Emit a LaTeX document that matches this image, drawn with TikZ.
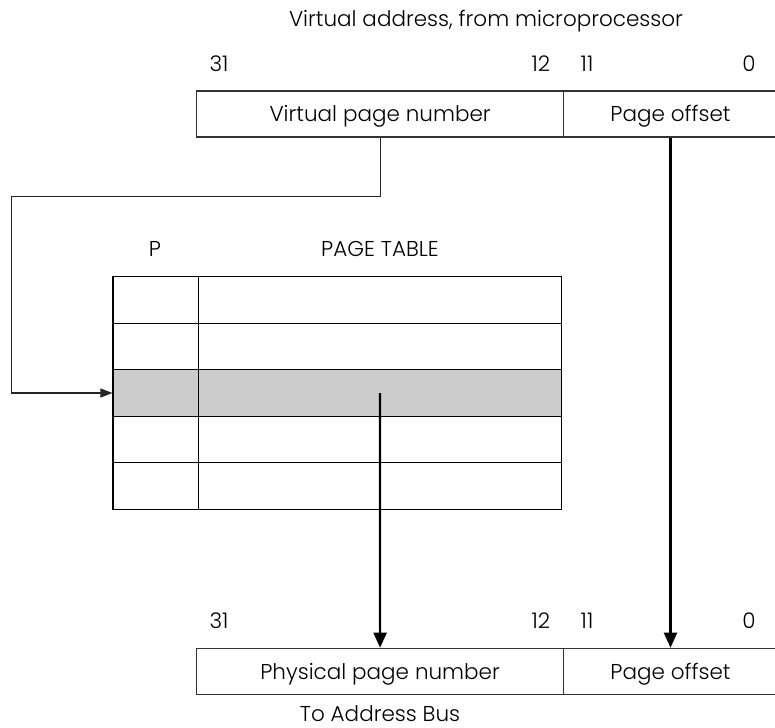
\documentclass[tikz,border=0pt]{standalone}
\usepackage{fontspec}
\setmainfont{Poppins}[UprightFont = * Light]
\usetikzlibrary{arrows.meta}
\begin{document}
\begin{tikzpicture}[x=1pt,y=-1pt,
  lbl/.style={font=\fontsize{21.5}{24}\selectfont, inner sep=0pt},
  tag/.style={lbl, anchor=base},
  field/.style={draw=black!80, line width=1.2pt, minimum height=46pt, inner sep=0pt,
    lbl, text height=17pt, text depth=1.6pt},
  cell/.style={draw=black, line width=1.3pt, minimum height=46.5pt, inner sep=0pt},
  pcell/.style={cell, minimum width=85.4pt},
  ecell/.style={cell, minimum width=363.4pt},
  feed/.style={draw=black!85, line width=1.1pt, -{Triangle[length=12pt,width=9pt]}},
  bus/.style={line width=2.2pt, -{Triangle[length=15pt,width=13pt]}}]

\useasboundingbox (0,0) rectangle (775,727);
\clip (0,0) rectangle (775,727);

% virtual address register
\node[tag] (title) at (486,26.7) {Virtual address, from microprocessor};
\node[tag] (v31) at (219,71.7) {31};
\node[tag] (v12) at (541,71.7) {12};
\node[tag] (v11) at (587,71.7) {11};
\node[tag] (v0)  at (749,71.7) {0};
\node[field, minimum width=366.8pt] (vpn)  at (380.1,114) {Virtual page number};
\node[field, minimum width=214pt]   (voff) at (670.5,114) {Page offset};

% page table
\node[tag] (phead) at (155,256.7) {P};
\node[tag] (thead) at (380,256.7) {PAGE TABLE};
\foreach \i/\y in {1/300,2/346.5,3/393,4/439.5,5/486}{
  \node[pcell] (p\i) at (155.8,\y) {};
  \node[ecell] (e\i) at (380,\y) {};
}
\node[pcell, fill=black!20] at (p3) {};
\node[ecell, fill=black!20] at (e3) {};

% physical address register
\node[tag] (b31) at (219,628.3) {31};
\node[tag] (b12) at (541,628.3) {12};
\node[tag] (b11) at (587,628.3) {11};
\node[tag] (b0)  at (749,628.3) {0};
\node[field, minimum width=366.8pt] (ppn)  at (380.1,671.3) {Physical page number};
\node[field, minimum width=214pt]   (poff) at (670.5,671.3) {Page offset};
\node[tag] (busl) at (380,721.8) {To Address Bus};

% connections
\coordinate (k1) at (11.7,196.7);
\draw[feed] (vpn.south) |- (k1) |- (p3.west);
\draw[bus] (e3.center) -- (ppn.north);
\draw[bus] (voff.south) -- (poff.north);
\end{tikzpicture}
\end{document}
